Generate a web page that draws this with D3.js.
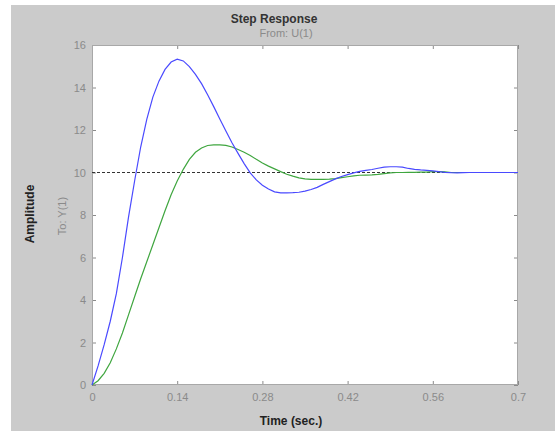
<!DOCTYPE html>
<html>
<head>
<meta charset="utf-8">
<script src="https://cdn.jsdelivr.net/npm/d3@7"></script>
<style>
  html, body { margin: 0; padding: 0; background: #ffffff; }
  svg { display: block; font-family: "Liberation Sans", Arial, sans-serif; }
</style>
</head>
<body>
<svg id="chart" width="555" height="431"></svg>
<script>
// Time samples (s)
const time = [0.00,0.01,0.02,0.03,0.04,0.05,0.06,0.07,0.08,0.09,
              0.10,0.11,0.12,0.13,0.14,0.15,0.16,0.17,0.18,0.19,
              0.20,0.21,0.22,0.23,0.24,0.25,0.26,0.27,0.28,0.29,
              0.30,0.31,0.32,0.33,0.34,0.35,0.36,0.37,0.38,0.39,
              0.40,0.41,0.42,0.43,0.44,0.45,0.46,0.47,0.48,0.49,
              0.50,0.51,0.52,0.53,0.54,0.55,0.56,0.57,0.58,0.59,
              0.60,0.61,0.62,0.63,0.64,0.65,0.66,0.67,0.68,0.69,0.70];

// Step response of the first loop (blue)
const responseA = [0.00,0.90,1.90,3.00,4.30,6.00,7.90,9.60,11.20,12.50,
                   13.55,14.30,14.85,15.20,15.33,15.25,14.98,14.62,14.18,13.66,
                   13.10,12.52,11.95,11.40,10.90,10.42,9.98,9.65,9.40,9.22,
                   9.09,9.04,9.04,9.05,9.07,9.12,9.20,9.30,9.44,9.57,
                   9.70,9.81,9.90,9.98,10.05,10.10,10.14,10.20,10.25,10.27,
                   10.27,10.25,10.19,10.15,10.12,10.10,10.08,10.04,10.01,9.99,
                   9.98,9.99,10.00,10.00,10.00,10.00,10.00,10.00,10.00,10.00,10.00];

// Step response of the second loop (green)
const responseB = [0.00,0.20,0.55,1.05,1.70,2.45,3.30,4.15,5.00,5.80,
                   6.60,7.40,8.20,8.95,9.60,10.15,10.62,10.95,11.15,11.27,
                   11.30,11.30,11.28,11.20,11.08,10.95,10.80,10.62,10.45,10.30,
                   10.17,10.04,9.92,9.83,9.75,9.70,9.68,9.68,9.68,9.69,
                   9.71,9.76,9.80,9.84,9.87,9.88,9.89,9.91,9.95,9.98,
                   10.00,10.00,10.01,10.01,10.02,10.02,10.04,10.04,10.03,10.00,
                   10.00,10.00,10.00,10.00,10.00,10.00,10.00,10.00,10.00,10.00,10.00];

const finalValue = 10;
const xTicks = [0, 0.14, 0.28, 0.42, 0.56, 0.7];
const xTickLabels = ["0", "0.14", "0.28", "0.42", "0.56", "0.7"];
const yTicks = [0, 2, 4, 6, 8, 10, 12, 14, 16];

const svg = d3.select("#chart");
const W = 555, H = 431;
const plot = { left: 92, right: 518, top: 45, bottom: 385 };

// figure background
svg.append("rect").attr("x", 11).attr("y", 5)
  .attr("width", W - 11).attr("height", H - 5).attr("fill", "#cbcbcb");

const x = d3.scaleLinear().domain([0, 0.7]).range([plot.left, plot.right]);
const y = d3.scaleLinear().domain([0, 16]).range([plot.bottom, plot.top]);

// axes area
svg.append("rect")
  .attr("x", plot.left).attr("y", plot.top)
  .attr("width", plot.right - plot.left).attr("height", plot.bottom - plot.top)
  .attr("fill", "#ffffff");

const axisColor = "#8a8a8a";
function styleAxis(g) {
  g.select(".domain").remove();
  g.selectAll(".tick line").attr("stroke", axisColor);
  g.selectAll(".tick text").attr("fill", axisColor).attr("font-size", 11)
    .attr("font-family", "\"Liberation Sans\", Arial, sans-serif");
}

svg.append("g").attr("transform", `translate(0,${plot.bottom})`)
  .call(d3.axisBottom(x).tickValues(xTicks)
        .tickFormat((d, i) => xTickLabels[i]).tickSize(-4).tickPadding(8))
  .call(styleAxis);
svg.append("g").attr("transform", `translate(0,${plot.top})`)
  .call(d3.axisTop(x).tickValues(xTicks).tickFormat("").tickSize(-4))
  .call(styleAxis);
svg.append("g").attr("transform", `translate(${plot.left},0)`)
  .call(d3.axisLeft(y).tickValues(yTicks).tickFormat(d3.format("d")).tickSize(-4).tickPadding(6))
  .call(styleAxis);
svg.append("g").attr("transform", `translate(${plot.right},0)`)
  .call(d3.axisRight(y).tickValues(yTicks).tickFormat("").tickSize(-4))
  .call(styleAxis);

// box
svg.append("rect")
  .attr("x", plot.left + 0.5).attr("y", plot.top + 0.5)
  .attr("width", plot.right - plot.left - 1).attr("height", plot.bottom - plot.top - 1)
  .attr("fill", "none").attr("stroke", "#a8a8a8").attr("stroke-width", 1);

// steady-state reference
svg.append("line")
  .attr("x1", x(0)).attr("x2", x(0.7))
  .attr("y1", y(finalValue)).attr("y2", y(finalValue))
  .attr("stroke", "#333").attr("stroke-width", 1).attr("stroke-dasharray", "3,2");

const line = d3.line().x(d => x(d[0])).y(d => y(d[1]));
svg.append("path")
  .datum(time.map((t, i) => [t, responseB[i]]))
  .attr("d", line).attr("fill", "none")
  .attr("stroke", "#3fa63f").attr("stroke-width", 1.2);
svg.append("path")
  .datum(time.map((t, i) => [t, responseA[i]]))
  .attr("d", line).attr("fill", "none")
  .attr("stroke", "#4a4aff").attr("stroke-width", 1.2);

// titles and labels
svg.append("text").attr("x", 274).attr("y", 23)
  .attr("text-anchor", "middle").attr("font-size", 12).attr("font-weight", "bold")
  .attr("fill", "#333").text("Step Response");
svg.append("text").attr("x", 286).attr("y", 37)
  .attr("text-anchor", "middle").attr("font-size", 11)
  .attr("fill", "#8a8a8a").text("From: U(1)");
svg.append("text").attr("x", 291).attr("y", 425)
  .attr("text-anchor", "middle").attr("font-size", 12).attr("font-weight", "bold")
  .attr("fill", "#222").text("Time (sec.)");
svg.append("text")
  .attr("transform", "translate(34,214) rotate(-90)")
  .attr("text-anchor", "middle").attr("font-size", 12).attr("font-weight", "bold")
  .attr("fill", "#222").text("Amplitude");
svg.append("text")
  .attr("transform", "translate(66,216) rotate(-90)")
  .attr("text-anchor", "middle").attr("font-size", 11)
  .attr("fill", "#8a8a8a").text("To: Y(1)");
</script>
</body>
</html>
